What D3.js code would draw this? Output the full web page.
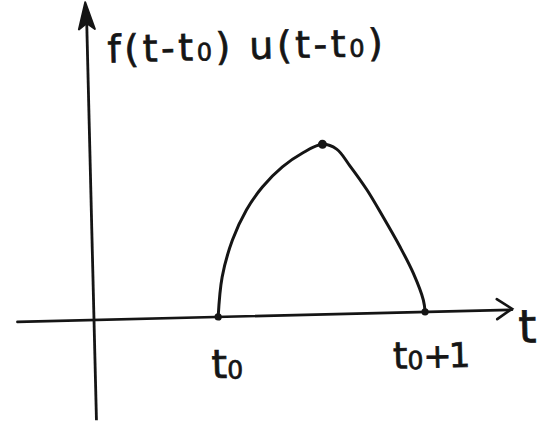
<!DOCTYPE html>
<html>
<head>
<meta charset="utf-8">
<script src="https://cdn.jsdelivr.net/npm/d3@7"></script>
<style>
  html, body { margin: 0; padding: 0; background: #fff; }
  svg { display: block; }
  text { font-family: "DejaVu Sans", sans-serif; fill: #151515; stroke: #151515; stroke-width: 0.7px; }
</style>
</head>
<body>
<script>
// Shifted pulse f(t - t0) u(t - t0): zero outside [t0, t0 + 1]
const t0 = 0.6;
const pulseTau = [0, 0.024, 0.078, 0.149, 0.229, 0.328, 0.427, 0.524, 0.592, 0.654, 0.734, 0.808, 0.887, 0.947, 0.993, 1];
const pulseValue = [0, 0.235, 0.45, 0.625, 0.758, 0.873, 0.952, 1.0, 0.97, 0.87, 0.725, 0.565, 0.385, 0.231, 0.07, 0];
const markedTau = [0, 0.524, 1];
const tickValues = [t0, t0 + 1];
const tickLabels = [["t", "0", ""], ["t", "0", "+1"]];
const axisLabel = "t";
const yLabelParts = [["f(t-t", ""], ["0", "sub"], [") u(t-t", ""], ["0", "sub"], [")", ""]];

const W = 540, H = 424;
const ink = "#151515";

const svg = d3.select("body").append("svg")
  .attr("width", W).attr("height", H);

// plot frame: origin of the axes, slightly tilted like a pen sketch
const plot = svg.append("g")
  .attr("transform", "translate(94,320) rotate(-1.4)");

const x = d3.scaleLinear().domain([0, 1]).range([0, 207]);
const y = d3.scaleLinear().domain([0, 1]).range([0, -170]);

// horizontal t axis with open chevron head
const xEnd = x(2.02);
plot.append("line")
  .attr("x1", x(-0.37)).attr("y1", 0)
  .attr("x2", xEnd).attr("y2", 0)
  .attr("stroke", ink).attr("stroke-width", 2.6).attr("stroke-linecap", "round");
plot.append("path")
  .attr("d", `M${xEnd - 15},${-11} L${xEnd},-1 L${xEnd - 15},${9}`)
  .attr("fill", "none").attr("stroke", ink).attr("stroke-width", 2.6)
  .attr("stroke-linejoin", "miter").attr("stroke-linecap", "round");

// vertical axis with filled arrow head
const yTop = y(1.87);
plot.append("line")
  .attr("x1", 0).attr("y1", y(-0.59))
  .attr("x2", 0).attr("y2", yTop + 10)
  .attr("stroke", ink).attr("stroke-width", 2.8);
plot.append("path")
  .attr("d", `M-1,${yTop} L-8,${yTop + 27} L0,${yTop + 21} L8,${yTop + 27} Z`)
  .attr("fill", ink).attr("stroke", ink).attr("stroke-width", 2)
  .attr("stroke-linejoin", "round");

// the pulse
const pts = pulseTau.map((tau, i) => [x(t0 + tau), y(pulseValue[i])]);
plot.append("path")
  .attr("d", d3.line().curve(d3.curveCatmullRom.alpha(0.5))(pts))
  .attr("fill", "none").attr("stroke", ink)
  .attr("stroke-width", 3).attr("stroke-linecap", "round").attr("stroke-linejoin", "round");

// heavier pen dots at the endpoints and the peak
plot.selectAll("circle.dot")
  .data(markedTau)
  .join("circle")
  .attr("class", "dot")
  .attr("cx", d => x(t0 + d))
  .attr("cy", d => y(pulseValue[pulseTau.indexOf(d)]))
  .attr("r", (d, i) => i === 1 ? 4.5 : 3.6)
  .attr("fill", ink);

// tick labels t0 and t0+1
const tickG = plot.selectAll("text.tick")
  .data(tickValues)
  .join("text")
  .attr("class", "tick")
  .attr("x", (d, i) => x(d) + (i === 0 ? 8 : 4))
  .attr("y", (d, i) => i === 0 ? 61 : 56)
  .attr("text-anchor", "middle")
  .attr("font-size", (d, i) => i === 0 ? 40 : 37);
tickG.each(function (d, i) {
  const el = d3.select(this);
  const [base, sub, rest] = tickLabels[i];
  el.append("tspan").text(base);
  el.append("tspan").attr("font-size", 25).attr("dy", 1).text(sub);
  if (rest) el.append("tspan").attr("dy", -1).attr("font-size", 34).attr("letter-spacing", -3).text(rest);
});

// axis name
plot.append("text")
  .attr("x", xEnd + 6).attr("y", 33)
  .attr("font-size", 46)
  .text(axisLabel);

// vertical axis label
const yl = plot.append("text")
  .attr("x", 20).attr("y", -257)
  .attr("font-size", 38)
  .attr("letter-spacing", 3.5);
yLabelParts.forEach(([s, kind], i) => {
  const ts = yl.append("tspan").text(s);
  if (kind === "sub") ts.attr("font-size", 24);
});
</script>
</body>
</html>
